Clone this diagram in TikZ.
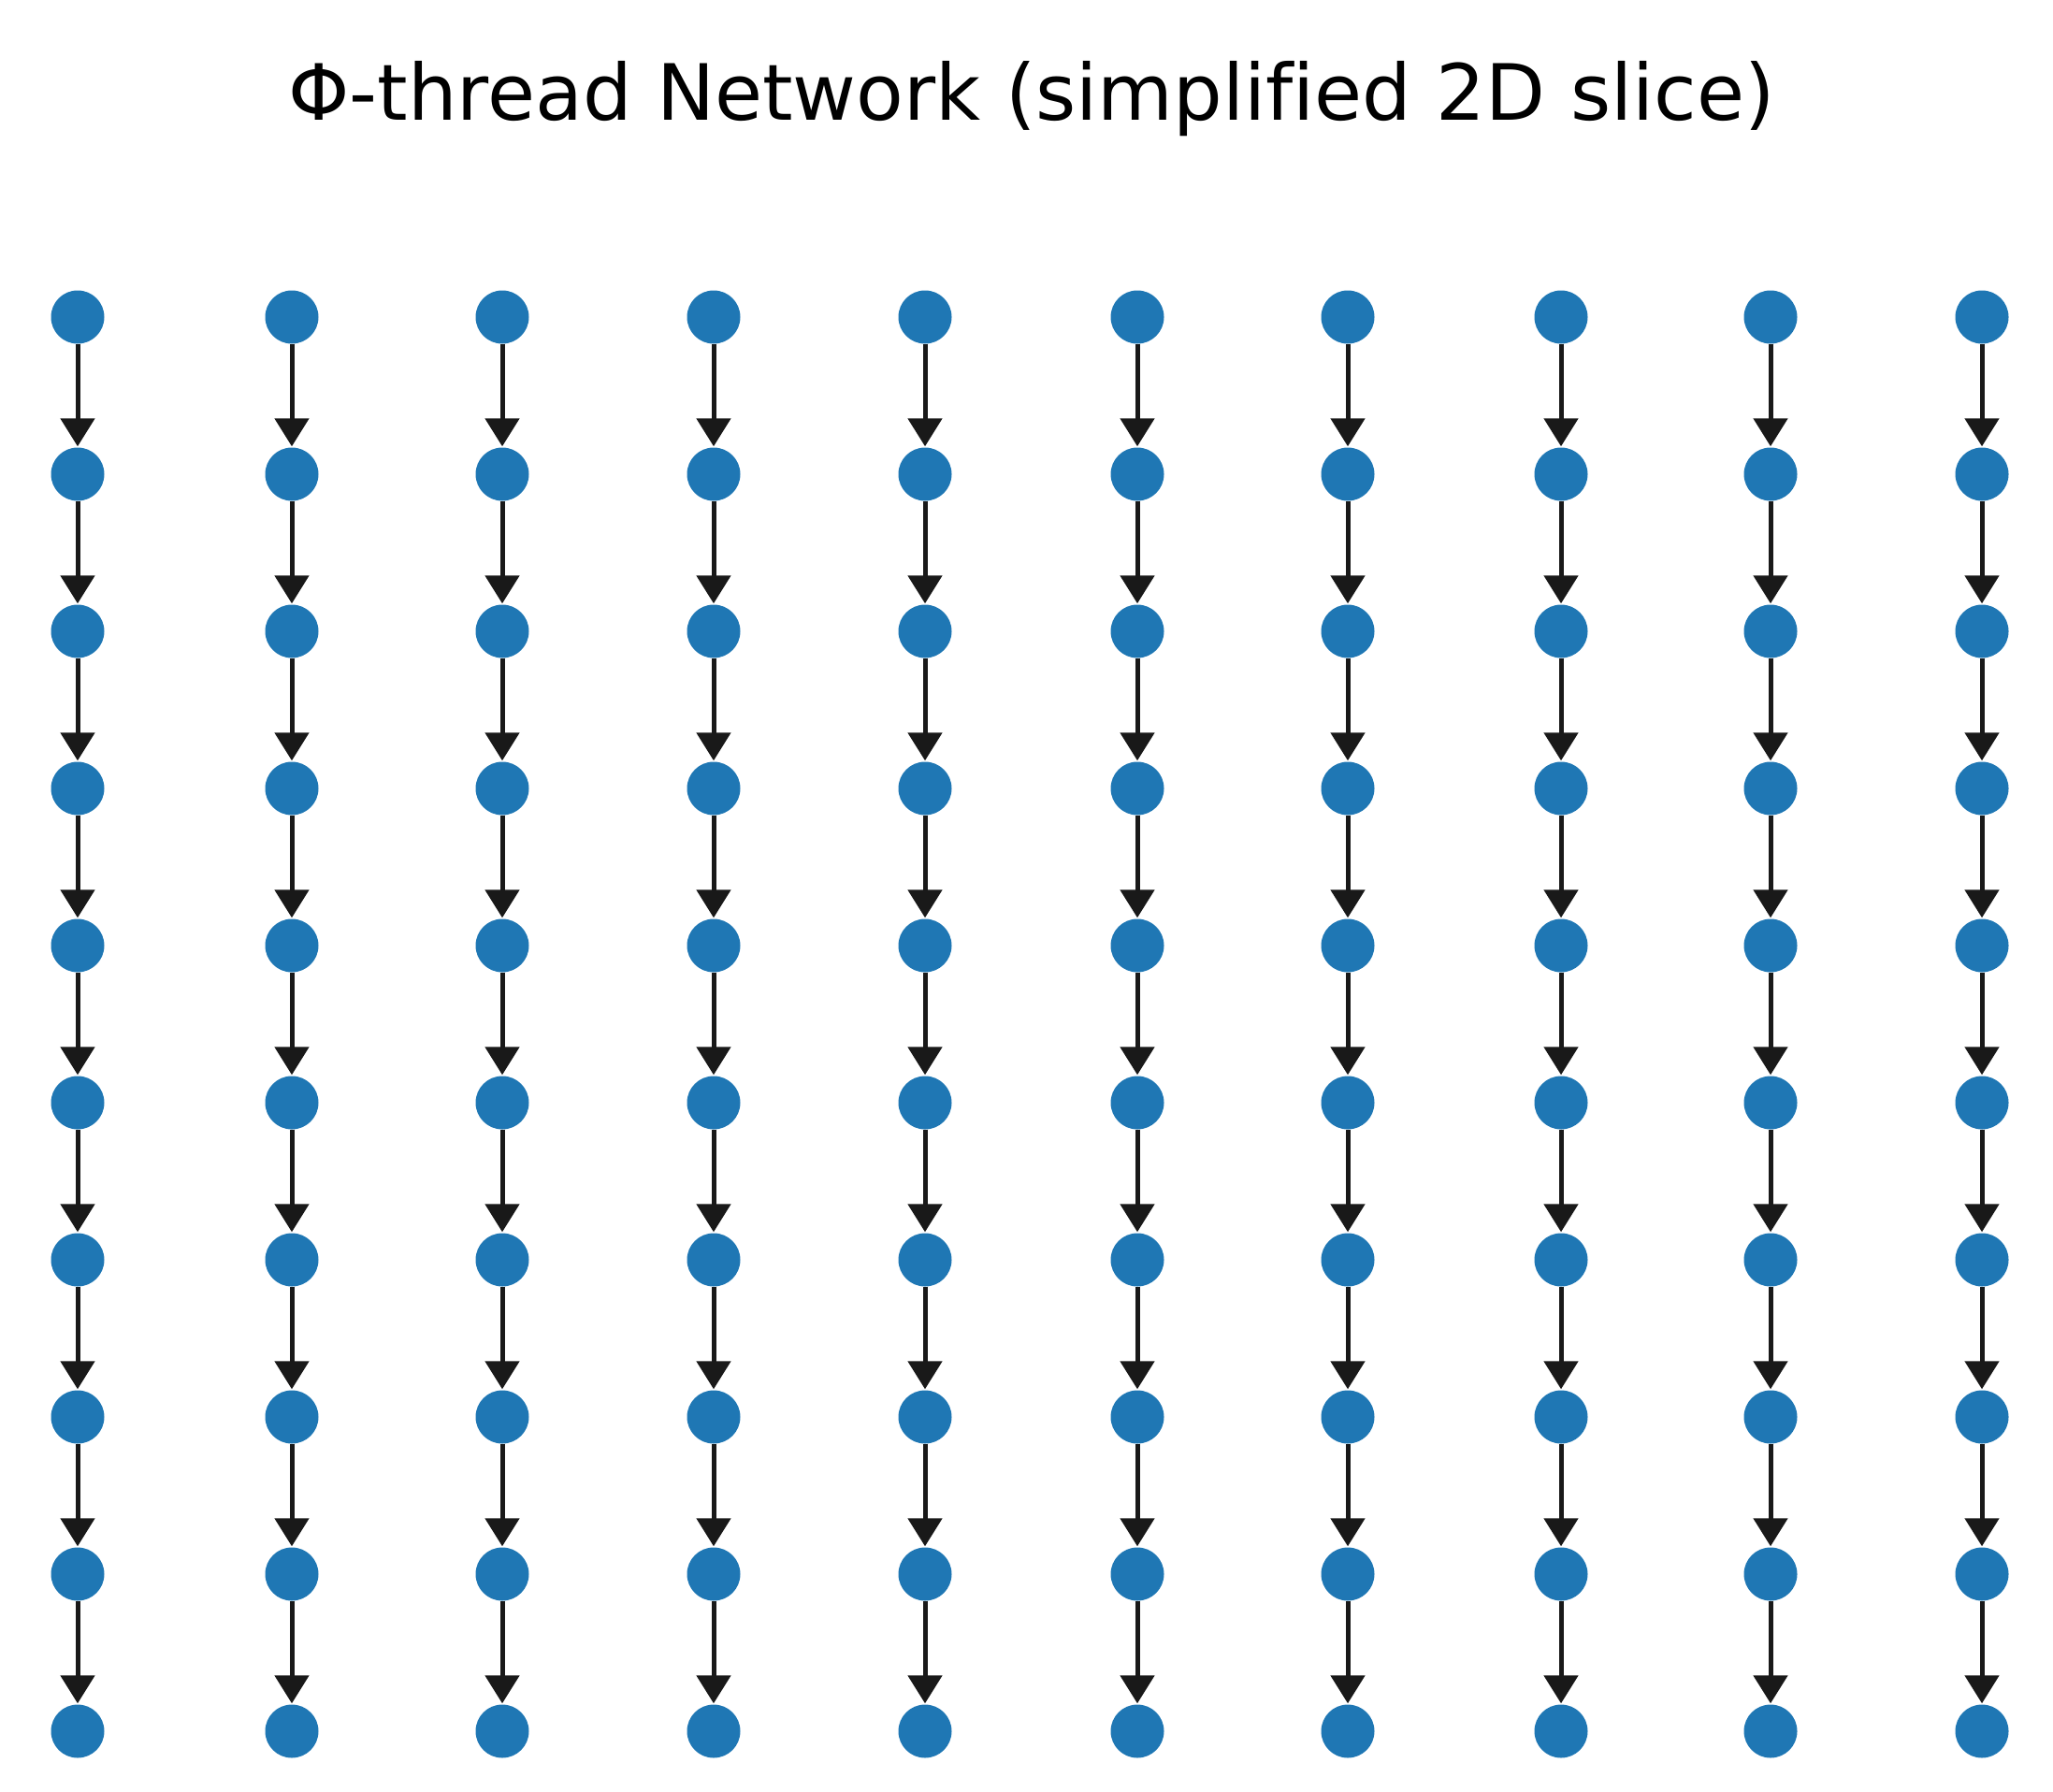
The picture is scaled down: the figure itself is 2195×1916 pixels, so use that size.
\documentclass[tikz,border=0pt]{standalone}
\usepackage{fontspec}
\setmainfont[Ligatures=NoCommon]{DejaVu Sans}
\usetikzlibrary{arrows.meta}
\definecolor{mblue}{HTML}{1F77B4}
\begin{document}
\begin{tikzpicture}[x=1pt,y=-1pt,
  dot/.style={circle,fill=mblue,minimum size=57pt,inner sep=0pt},
  edge/.style={line width=5pt,draw=black!90,-{Triangle[width=36pt,length=30pt]},shorten >=1pt}]
\useasboundingbox (0,0) rectangle (2195,1916);
\node[font=\fontsize{83}{90}\selectfont] (title) at (1103,106) {Φ-thread Network (simplified 2D slice)};
\foreach \c/\x in {1/83,2/312,3/537,4/763,5/989,6/1216,7/1441,8/1669,9/1893,10/2119}{
  \foreach \r in {1,...,10}{
    \node[dot] (n\c-\r) at (\x,{339+168*(\r-1)}) {};
  }
  \foreach \r [evaluate=\r as \s using int(\r+1)] in {1,...,9}{
    \draw[edge] (n\c-\r) -- (n\c-\s);
  }
}
\end{tikzpicture}
\end{document}
